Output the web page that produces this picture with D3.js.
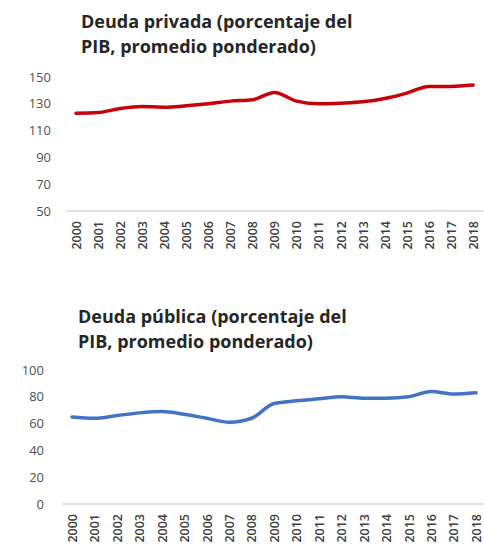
<!DOCTYPE html>
<html>
<head>
<meta charset="utf-8">
<script src="https://cdn.jsdelivr.net/npm/d3@7"></script>
<style>
  body { margin: 0; background: #fff; }
  svg text { font-family: "Open Sans", sans-serif; }
</style>
</head>
<body>
<svg id="chart" width="484" height="550"></svg>
<script>
// data
var years = d3.range(2000, 2019).map(String);
var privada = [123, 123.5, 126.5, 128, 127.5, 128.5, 130, 132, 133, 138.5, 132, 130, 130.5, 131.5, 134, 138, 143, 143, 144];
var publica = [65, 64, 66, 68, 69, 67, 64, 61, 64, 75, 77, 78.5, 80, 79, 79, 80, 84, 82, 83];
var privadaTicks = [50, 70, 90, 110, 130, 150];
var publicaTicks = [0, 20, 40, 60, 80, 100];

var svg = d3.select('#chart');

// one small panel: title, y labels, baseline, rotated years, line
function panel(opt) {
  var g = svg.append('g');

  var x = d3.scalePoint().domain(years).range(opt.xRange);
  var y = d3.scaleLinear().domain(opt.yDomain).range(opt.yRange);

  g.selectAll('.title')
    .data(opt.title)
    .enter().append('text')
    .attr('x', opt.titleX)
    .attr('y', function(d, i) { return opt.titleY + i * 25; })
    .style('font-size', '18px')
    .style('font-weight', 700)
    .style('fill', '#262626')
    .text(function(d) { return d; });

  var yAxis = d3.axisLeft(y).tickValues(opt.ticks).tickSize(0).tickPadding(0);
  g.append('g')
    .attr('transform', 'translate(' + opt.yLabelX + ',0)')
    .call(yAxis)
    .call(function(a) {
      a.select('.domain').remove();
      a.selectAll('text').style('font-size', '13px').style('fill', '#505050')
        .style('font-family', '"Open Sans", sans-serif');
    });

  // baseline
  g.append('line')
    .attr('x1', opt.baseX[0]).attr('x2', opt.baseX[1])
    .attr('y1', y(opt.yDomain[0])).attr('y2', y(opt.yDomain[0]))
    .style('stroke', '#d9d9d9').style('stroke-width', 1.5);

  var xAxis = d3.axisBottom(x).tickSize(0).tickPadding(0);
  g.append('g')
    .attr('transform', 'translate(0,' + (y(opt.yDomain[0]) + 10) + ')')
    .call(xAxis)
    .call(function(a) {
      a.select('.domain').remove();
      a.selectAll('text')
        .attr('transform', 'rotate(-90)')
        .attr('text-anchor', 'end')
        .attr('dy', '0.35em')
        .attr('x', 0).attr('y', 0)
        .style('font-size', '12.5px').style('font-weight', 600).style('fill', '#404040')
        .style('font-family', '"Open Sans", sans-serif');
    });

  var line = d3.line()
    .x(function(d, i) { return x(years[i]); })
    .y(function(d) { return y(d); })
    .curve(d3.curveMonotoneX);

  g.append('path')
    .datum(opt.values)
    .attr('d', line)
    .style('fill', 'none')
    .style('stroke', opt.color)
    .style('stroke-width', 3.5)
    .style('stroke-linejoin', 'round')
    .style('stroke-linecap', 'round');
}

panel({
  title: ['Deuda privada (porcentaje del', 'PIB, promedio ponderado)'],
  titleX: 81, titleY: 28,
  values: privada, ticks: privadaTicks, color: '#c8000a',
  xRange: [76, 473], yDomain: [50, 150], yRange: [211, 77],
  yLabelX: 51, baseX: [67, 484]
});

panel({
  title: ['Deuda pública (porcentaje del', 'PIB, promedio ponderado)'],
  titleX: 78, titleY: 323,
  values: publica, ticks: publicaTicks, color: '#4472c4',
  xRange: [72, 476], yDomain: [0, 100], yRange: [504, 370],
  yLabelX: 44, baseX: [62, 484]
});
</script>
</body>
</html>
